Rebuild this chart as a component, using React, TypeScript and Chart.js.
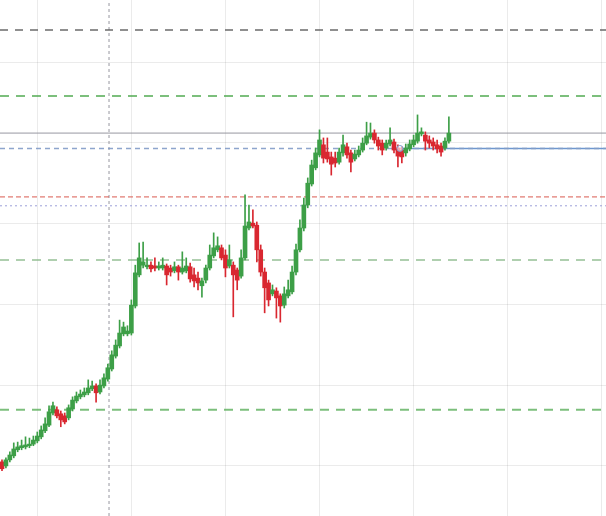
import React, { useEffect, useRef } from 'react';
import { Chart, registerables } from 'chart.js';

Chart.register(...registerables);

// Hourly candles (index 0..114)
const opens = [
  1001.0, 1000.0, 1001.5, 1002.5, 1004.0, 1004.5, 1004.7, 1005.0, 1005.4, 1006.2,
  1007.2, 1008.7, 1010.1, 1013.1, 1013.9, 1012.9, 1012.4, 1011.9, 1014.1, 1016.1,
  1017.1, 1017.6, 1018.1, 1019.1, 1019.8, 1018.3, 1019.8, 1021.5, 1024.0, 1027.2,
  1029.7, 1032.7, 1032.7, 1032.9, 1039.6, 1047.3, 1049.7, 1049.3, 1049.7, 1049.5,
  1049.0, 1049.0, 1049.5, 1049.0, 1048.3, 1049.3, 1048.0, 1048.3, 1049.3, 1047.3,
  1046.5, 1044.6, 1046.0, 1049.0, 1052.0, 1053.5, 1054.0, 1052.2, 1049.5, 1049.7,
  1048.5, 1047.0, 1051.5, 1058.9, 1060.1, 1059.6, 1053.5, 1048.0, 1045.3, 1042.6,
  1043.3, 1042.1, 1039.8, 1042.1, 1043.1, 1048.0, 1053.5, 1058.9, 1064.6, 1069.8,
  1073.8, 1077.0, 1079.5, 1077.7, 1076.5, 1076.2, 1075.2, 1077.5, 1079.0, 1077.5,
  1076.0, 1077.0, 1078.2, 1079.9, 1081.4, 1082.4, 1080.7, 1079.9, 1078.7, 1079.7,
  1080.2, 1078.7, 1078.2, 1077.5, 1078.5, 1079.5, 1080.4, 1082.2, 1081.9, 1080.7,
  1080.2, 1079.5, 1079.2, 1078.7, 1080.4,
];
const highs = [
  1001.5, 1002.0, 1003.5, 1005.7, 1005.9, 1006.4, 1007.2, 1006.9, 1007.4, 1008.4,
  1009.9, 1011.9, 1014.9, 1015.8, 1014.6, 1013.6, 1013.1, 1015.1, 1017.1, 1018.3,
  1018.8, 1019.3, 1021.3, 1021.0, 1020.3, 1021.3, 1022.8, 1025.2, 1028.5, 1031.2,
  1036.1, 1035.6, 1034.7, 1041.1, 1049.7, 1055.2, 1055.4, 1051.5, 1050.5, 1051.5,
  1050.5, 1051.5, 1050.0, 1049.7, 1050.5, 1049.7, 1053.0, 1051.5, 1050.2, 1049.0,
  1048.0, 1046.5, 1049.7, 1054.7, 1057.7, 1056.7, 1054.7, 1053.5, 1054.7, 1050.5,
  1049.0, 1053.5, 1067.1, 1064.6, 1063.4, 1060.4, 1054.7, 1049.0, 1046.0, 1044.8,
  1044.1, 1042.6, 1044.3, 1046.0, 1049.5, 1054.9, 1060.9, 1066.3, 1071.3, 1075.7,
  1078.7, 1083.2, 1081.2, 1081.2, 1077.7, 1077.7, 1078.7, 1081.9, 1079.9, 1078.2,
  1078.2, 1079.2, 1081.2, 1085.1, 1084.9, 1083.2, 1081.4, 1080.7, 1080.7, 1083.7,
  1080.9, 1079.5, 1079.0, 1079.7, 1080.7, 1081.9, 1086.9, 1083.7, 1082.7, 1081.7,
  1081.2, 1080.7, 1079.9, 1081.2, 1086.4,
];
const lows = [
  998.8, 999.5, 1001.0, 1002.0, 1003.5, 1004.0, 1004.2, 1004.5, 1005.0, 1005.7,
  1006.7, 1008.2, 1009.7, 1012.6, 1011.9, 1009.7, 1010.4, 1011.4, 1013.6, 1015.6,
  1016.6, 1017.1, 1017.6, 1018.6, 1015.8, 1017.8, 1019.3, 1021.0, 1023.5, 1026.7,
  1029.2, 1032.2, 1032.2, 1032.4, 1039.1, 1046.8, 1049.0, 1048.8, 1048.0, 1048.3,
  1048.5, 1048.5, 1044.8, 1047.0, 1047.8, 1046.0, 1047.5, 1047.8, 1045.5, 1044.3,
  1043.6, 1041.8, 1045.3, 1048.5, 1051.5, 1053.0, 1051.0, 1046.8, 1049.0, 1036.9,
  1043.6, 1046.5, 1051.0, 1058.4, 1058.9, 1050.5, 1047.0, 1037.9, 1039.6, 1042.1,
  1036.6, 1035.6, 1039.1, 1041.6, 1042.6, 1047.3, 1053.0, 1058.2, 1063.9, 1069.3,
  1073.3, 1076.5, 1075.0, 1075.2, 1072.0, 1074.0, 1074.7, 1076.7, 1076.2, 1072.8,
  1075.5, 1076.5, 1077.7, 1079.5, 1080.9, 1079.9, 1078.2, 1077.0, 1078.2, 1079.2,
  1077.5, 1074.0, 1075.0, 1076.7, 1078.0, 1079.0, 1079.9, 1081.7, 1078.2, 1078.7,
  1078.2, 1077.5, 1076.7, 1078.2, 1079.9,
];
const closes = [
  999.3, 1001.5, 1002.7, 1004.2, 1004.7, 1005.0, 1005.2, 1005.4, 1006.4, 1007.4,
  1008.9, 1010.4, 1013.4, 1014.9, 1012.4, 1011.4, 1010.9, 1014.4, 1016.3, 1017.3,
  1017.8, 1018.3, 1019.3, 1019.8, 1018.1, 1020.0, 1021.8, 1024.3, 1027.5, 1029.9,
  1032.9, 1034.4, 1033.4, 1039.8, 1047.8, 1051.5, 1050.5, 1049.7, 1048.8, 1049.0,
  1049.5, 1049.7, 1047.3, 1048.0, 1049.3, 1048.0, 1049.0, 1049.5, 1046.3, 1045.8,
  1045.3, 1045.8, 1049.0, 1052.2, 1054.0, 1054.5, 1051.5, 1049.0, 1051.0, 1047.3,
  1046.0, 1051.5, 1059.4, 1060.4, 1059.4, 1053.5, 1048.0, 1044.1, 1041.1, 1043.6,
  1041.6, 1039.6, 1042.6, 1043.6, 1048.0, 1053.5, 1058.9, 1064.6, 1070.0, 1074.5,
  1077.5, 1080.7, 1076.2, 1076.0, 1074.7, 1075.0, 1077.7, 1079.5, 1077.0, 1075.2,
  1077.2, 1078.2, 1079.9, 1081.7, 1082.4, 1080.7, 1079.2, 1078.2, 1079.9, 1080.7,
  1078.2, 1076.7, 1076.5, 1078.7, 1079.7, 1080.7, 1082.4, 1082.7, 1080.4, 1079.9,
  1079.2, 1078.5, 1077.7, 1080.4, 1082.4,
];

// Grid positions (daily separators, price grid)
const dayGridIndices = [9, 33, 57, 81, 105, 129, 153];
const priceGridLevels = [1000, 1020, 1040, 1060, 1080, 1100];

// Horizontal levels
const levelTop = 1107.9;
const levelTargetUpper = 1091.6;
const levelSolidGray = 1082.4;
const levelCurrent = 1078.6;
const levelRed = 1066.6;
const levelDotted = 1064.4;
const levelMidGreen = 1051.0;
const levelTargetLower = 1013.9;
const currentMarkerIndex = 101.5;
const verticalMarkerIndex = 27.3;

const X_MIN = -0.51;
const X_MAX = 154.08;
const Y_MIN = 987.6;
const Y_MAX = 1115.35;

const GREEN = '#3d9f47';
const RED = '#d92730';

export default function App() {
  const ref = useRef<HTMLCanvasElement | null>(null);

  useEffect(() => {
    if (!ref.current) return;
    const idx = opens.map((_, i) => i);
    const colors = idx.map((i) => (closes[i] >= opens[i] ? GREEN : RED));

    const hline = (y: number, color: string, width: number, dash: number[], x0 = X_MIN, x1 = X_MAX) => ({
      type: 'line' as const,
      data: [{ x: x0, y }, { x: x1, y }],
      borderColor: color,
      borderWidth: width,
      borderDash: dash,
      pointRadius: 0,
      fill: false,
      tension: 0,
      order: 10,
    });

    const chart = new Chart(ref.current, {
      type: 'bar',
      data: {
        datasets: [
          hline(levelTop, 'rgba(90,90,90,0.9)', 1.5, [8, 7]),
          hline(levelTargetUpper, 'rgba(80,170,80,0.75)', 2, [9, 7]),
          hline(levelSolidGray, 'rgba(140,140,150,0.9)', 1, []),
          hline(levelCurrent, 'rgba(130,155,200,0.9)', 1.5, [5, 4]),
          hline(levelCurrent, 'rgba(100,145,205,0.95)', 1.5, [], currentMarkerIndex, X_MAX),
          hline(levelRed, 'rgba(215,80,70,0.95)', 1, [5, 3]),
          hline(levelDotted, 'rgba(150,155,215,0.95)', 1, [2, 3]),
          hline(levelMidGreen, 'rgba(130,180,130,0.85)', 1.5, [9, 7]),
          hline(levelTargetLower, 'rgba(80,170,80,0.75)', 2, [9, 7]),
          {
            type: 'line' as const,
            data: [{ x: verticalMarkerIndex, y: Y_MIN }, { x: verticalMarkerIndex, y: Y_MAX }],
            borderColor: 'rgba(140,140,150,0.9)',
            borderWidth: 1,
            borderDash: [3, 3],
            pointRadius: 0,
            fill: false,
            order: 10,
          },
          {
            type: 'line' as const,
            data: [{ x: currentMarkerIndex, y: levelCurrent }],
            borderColor: 'rgba(120,150,205,0.9)',
            backgroundColor: 'rgba(255,255,255,0.6)',
            pointRadius: 3,
            pointBorderWidth: 1,
            showLine: false,
            order: 0,
          },
          {
            type: 'bar' as const,
            data: idx.map((i) => ({ x: i, y: [lows[i], highs[i]] })),
            backgroundColor: colors,
            barThickness: 1,
            grouped: false,
            borderWidth: 0,
            order: 2,
          },
          {
            type: 'bar' as const,
            data: idx.map((i) => ({ x: i, y: [opens[i], closes[i]] })),
            backgroundColor: colors,
            barThickness: 4,
            minBarLength: 1,
            grouped: false,
            borderWidth: 0,
            order: 1,
          },
        ] as any,
      },
      options: {
        animation: false,
        responsive: false,
        maintainAspectRatio: false,
        layout: { padding: 0, autoPadding: false } as any,
        plugins: { legend: { display: false }, tooltip: { enabled: false } },
        scales: {
          x: {
            type: 'linear',
            min: X_MIN,
            max: X_MAX,
            offset: false,
            ticks: { display: false },
            border: { display: false },
            grid: { color: 'rgba(0,0,0,0.08)', drawTicks: false, offset: false },
            afterBuildTicks: (scale: any) => {
              scale.ticks = dayGridIndices.map((v) => ({ value: v }));
            },
          },
          y: {
            type: 'linear',
            min: Y_MIN,
            max: Y_MAX,
            ticks: { display: false },
            border: { display: false },
            grid: { color: 'rgba(0,0,0,0.08)', drawTicks: false },
            afterBuildTicks: (scale: any) => {
              scale.ticks = priceGridLevels.map((v) => ({ value: v }));
            },
          },
        },
      } as any,
    });
    return () => chart.destroy();
  }, []);

  return (
    <div style={{ position: 'fixed', left: 0, top: 0, width: 606, height: 516, background: '#fff' }}>
      <canvas ref={ref} width={606} height={516} style={{ display: 'block' }} />
    </div>
  );
}
